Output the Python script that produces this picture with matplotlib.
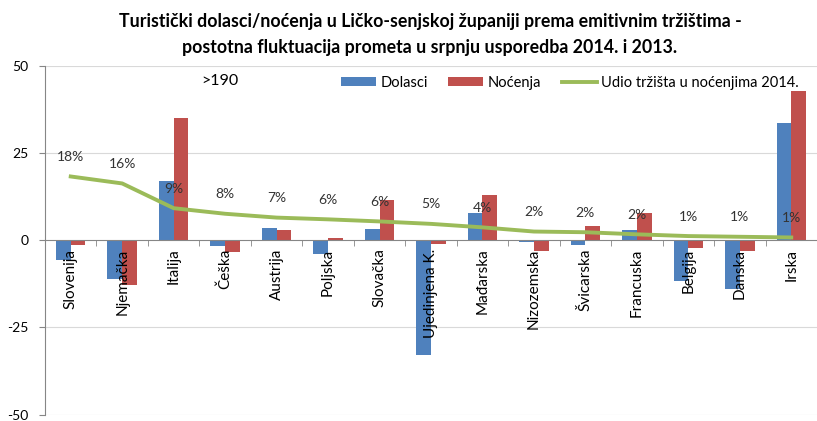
import matplotlib
matplotlib.use("Agg")
import matplotlib.pyplot as plt
import numpy as np

plt.rcParams['font.family'] = ['Lato', 'DejaVu Sans']

categories = ["Slovenija", "Njemačka", "Italija", "Češka", "Austrija", "Poljska",
              "Slovačka", "Ujedinjena K.", "Mađarska", "Nizozemska", "Švicarska",
              "Francuska", "Belgija", "Danska", "Irska"]
dolasci = [-5.7, -11.2, 17.1, -1.6, 3.6, -4.0, 3.2, -33.0, 7.8, -0.6, -1.5, 2.8, -11.8, -13.9, 33.7]
nocenja = [-1.3, -12.7, 35.1, -3.5, 3.0, 0.6, 11.6, -1.0, 13.0, -3.1, 4.2, 7.7, -2.1, -3.2, 42.7]
udio = [18.3, 16.3, 9.2, 7.6, 6.5, 6.0, 5.4, 4.7, 3.7, 2.5, 2.3, 1.7, 1.2, 1.0, 0.8]
udio_labels = ["18%", "16%", "9%", "8%", "7%", "6%", "6%", "5%", "4%", "2%", "2%", "2%", "1%", "1%", "1%"]
yticks = [-50, -25, 0, 25, 50]

blue = "#4F81BD"
red = "#C0504D"
green = "#9BBB59"

fig = plt.figure(figsize=(8.17, 4.21), dpi=100)
ax = fig.add_axes([45/817, 1-414.5/421, 1-45/817, (414.5-66)/421])

x = np.arange(len(categories))
w = 0.286
for t in yticks:
    if t != 0:
        ax.axhline(t, color="#D9D9D9", lw=0.8, zorder=0.5)
b1 = ax.bar(x - w/2, dolasci, w, color=blue, label="Dolasci", zorder=1)
b2 = ax.bar(x + w/2, nocenja, w, color=red, label="Noćenja", zorder=1)
l1, = ax.plot(x, udio, color=green, lw=2.8, label="Udio tržišta u noćenjima 2014.", zorder=1.5)

for xi, yi, lab in zip(x, udio, udio_labels):
    ax.annotate(lab, (xi, yi), xytext=(0, 14), textcoords="offset points",
                ha="center", va="center", fontsize=10, color="#333333", zorder=4)

ax.set_xlim(-0.5, len(categories) - 0.5)
ax.set_ylim(-50, 50)
ax.set_yticks(yticks)
ax.set_yticklabels([str(v) for v in yticks], fontsize=10)

for s in ["top", "right"]:
    ax.spines[s].set_visible(False)
ax.spines["left"].set_color("#868686")
ax.spines["bottom"].set_position(("data", 0))
ax.spines["bottom"].set_color("#868686")

ax.set_xticks(x)
ax.set_xticklabels(categories, rotation=90, fontsize=11, va="top", ha="center")
ax.set_xticks(np.arange(-0.5, len(categories) + 0.5, 1), minor=True)
ax.tick_params(axis="x", which="major", length=0, pad=6)
ax.tick_params(axis="x", which="minor", length=4, color="#868686", direction="out")
ax.tick_params(axis="y", length=4, color="#868686", pad=8)

ax.text(2.9, 45.7, ">190", fontsize=11.5, ha="center", va="center")

fig.text(430/817, 1-22/421, "Turistički dolasci/noćenja u Ličko-senjskoj županiji prema emitivnim tržištima -",
         ha="center", va="center", fontsize=12.8, fontweight="bold")
fig.text(430/817, 1-47/421, "postotna fluktuacija prometa u srpnju usporedba 2014. i 2013.",
         ha="center", va="center", fontsize=12.8, fontweight="bold")

leg = ax.legend(handles=[b1, b2, l1], loc="center right", bbox_to_anchor=(812/817, 1-83/421),
                bbox_transform=fig.transFigure,
                ncol=3, frameon=False, fontsize=10.5, handlelength=2.4, handleheight=0.6,
                columnspacing=1.4, handletextpad=0.3)

fig.savefig("out.png", dpi=100)
